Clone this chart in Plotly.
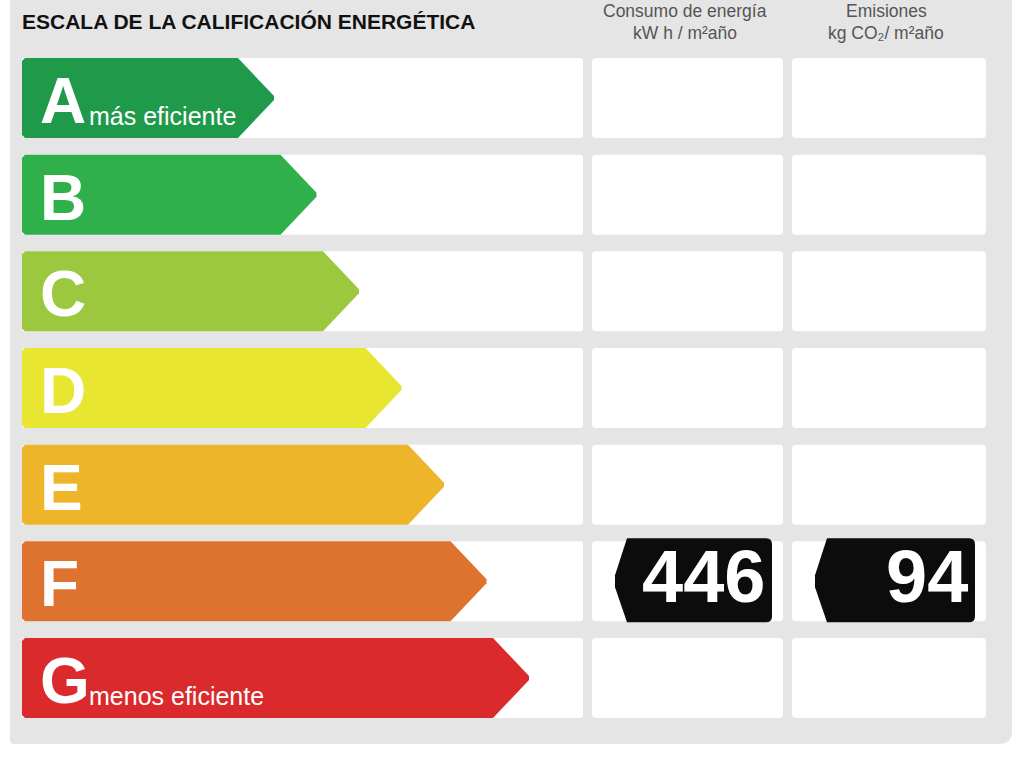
import plotly.graph_objects as go

# ---------------- data ----------------
grades = ["A", "B", "C", "D", "E", "F", "G"]
grade_notes = ["más eficiente", "", "", "", "", "", "menos eficiente"]
grade_colors = ["#1f9a4b", "#2fb04a", "#9cc83f", "#e8e630", "#efb52a", "#de732f", "#db2a2c"]
title_text = "ESCALA DE LA CALIFICACIÓN ENERGÉTICA"
header_line1 = ["Consumo de energía", "Emisiones"]
header_line2 = ["kW h / m²año", "kg CO₂/ m²año"]
rating = "F"
consumo_kwh = 446
emisiones_co2 = 94
rating_values = [consumo_kwh, emisiones_co2]

# ---------------- layout / style ----------------
W, H = 1024, 768
ROW0, PITCH, ROW_H = 58, 96.67, 80
LEFT, LEFT_END = 22, 583
COLS = [(592, 783), (792, 986)]
TIP0, TIP_STEP, POINT = 275, 42.5, 37
SANS = "Liberation Sans, Arial, Helvetica, sans-serif"
PANEL = "#e5e5e5"


def rrect(x0, y0, x1, y1, r):
    return (f"M{x0+r},{y0} L{x1-r},{y0} Q{x1},{y0} {x1},{y0+r} L{x1},{y1-r} "
            f"Q{x1},{y1} {x1-r},{y1} L{x0+r},{y1} Q{x0},{y1} {x0},{y1-r} "
            f"L{x0},{y0+r} Q{x0},{y0} {x0+r},{y0} Z")


fig = go.Figure()
shapes = []
annotations = []

# grey panel
shapes.append(dict(type="path", xref="x", yref="y", layer="below",
                   path="M10,-20 L1012,-20 L1012,731 Q1012,744 999,744 L14,744 Q10,744 10,740 Z",
                   fillcolor=PANEL, line=dict(width=0)))

for i, g in enumerate(grades):
    top = ROW0 + PITCH * i
    bot = top + ROW_H
    mid = top + ROW_H / 2
    # white cells
    shapes.append(dict(type="path", xref="x", yref="y", layer="below",
                       path=rrect(LEFT, top, LEFT_END, bot, 3), fillcolor="white", line=dict(width=0)))
    for (c0, c1) in COLS:
        shapes.append(dict(type="path", xref="x", yref="y", layer="below",
                           path=rrect(c0, top, c1, bot, 4), fillcolor="white", line=dict(width=0)))
    # arrow
    tip = TIP0 + TIP_STEP * i
    xs = [LEFT + 3, tip - POINT, tip - 1, tip - 1, tip - POINT, LEFT + 3, LEFT, LEFT, LEFT + 3]
    ys = [top, top, mid - 2, mid + 2, bot, bot, bot - 3, top + 3, top]
    fig.add_trace(go.Scatter(x=xs, y=ys, mode="lines", fill="toself", fillcolor=grade_colors[i],
                             line=dict(width=0, color=grade_colors[i]), hoverinfo="skip",
                             showlegend=False))
    # letter
    annotations.append(dict(x=38, y=top + 43, xref="x", yref="y", xanchor="left", yanchor="middle",
                            text=g, showarrow=False,
                            font=dict(family=SANS, size=64, color="white", weight="bold")))
    if grade_notes[i]:
        annotations.append(dict(x=87, y=top + 58, xref="x", yref="y", xanchor="left", yanchor="middle",
                                text=grade_notes[i], showarrow=False,
                                font=dict(family=SANS, size=25, color="white")))
    # rating badges
    if g == rating:
        for k, (c0, c1) in enumerate(COLS):
            bx0, bx1 = c0 + 23, c1 - 11
            by0, by1 = top - 3, bot + 1
            p = (f"M{bx0+12},{by0} L{bx1-6},{by0} Q{bx1},{by0} {bx1},{by0+6} L{bx1},{by1-6} "
                 f"Q{bx1},{by1} {bx1-6},{by1} L{bx0+12},{by1} L{bx0},{mid+6} L{bx0},{mid-6} Z")
            shapes.append(dict(type="path", xref="x", yref="y", layer="above", path=p,
                               fillcolor="#0c0c0c", line=dict(width=0)))
            annotations.append(dict(x=bx1 - 5, y=mid - 5, xref="x", yref="y", xanchor="right",
                                    yanchor="middle", text=str(rating_values[k]), showarrow=False,
                                    font=dict(family=SANS, size=74, color="white", weight="bold")))

# title
annotations.append(dict(x=20, y=21, xref="x", yref="y", xanchor="left", yanchor="middle",
                        text=title_text, showarrow=False,
                        font=dict(family=SANS, size=21, color="#111111", weight="bold")))
# column headers
for k, (c0, c1) in enumerate(COLS):
    cx = (c0 + c1) / 2 - 3
    annotations.append(dict(x=cx, y=11, xref="x", yref="y", xanchor="center", yanchor="middle",
                            text=header_line1[k], showarrow=False,
                            font=dict(family=SANS, size=17.5, color="#555555")))
    annotations.append(dict(x=cx, y=33, xref="x", yref="y", xanchor="center", yanchor="middle",
                            text=header_line2[k], showarrow=False,
                            font=dict(family=SANS, size=17.5, color="#555555")))

fig.update_layout(
    width=W, height=H, autosize=False,
    margin=dict(l=0, r=0, t=0, b=0, pad=0),
    paper_bgcolor="white", plot_bgcolor="white",
    showlegend=False,
    xaxis=dict(range=[0, W], visible=False, fixedrange=True),
    yaxis=dict(range=[H, 0], visible=False, fixedrange=True),
    shapes=shapes, annotations=annotations,
)

fig.write_html("out.html", config={"displayModeBar": False, "staticPlot": True},
               post_script="document.body.style.margin='0';document.body.style.overflow='hidden';")
